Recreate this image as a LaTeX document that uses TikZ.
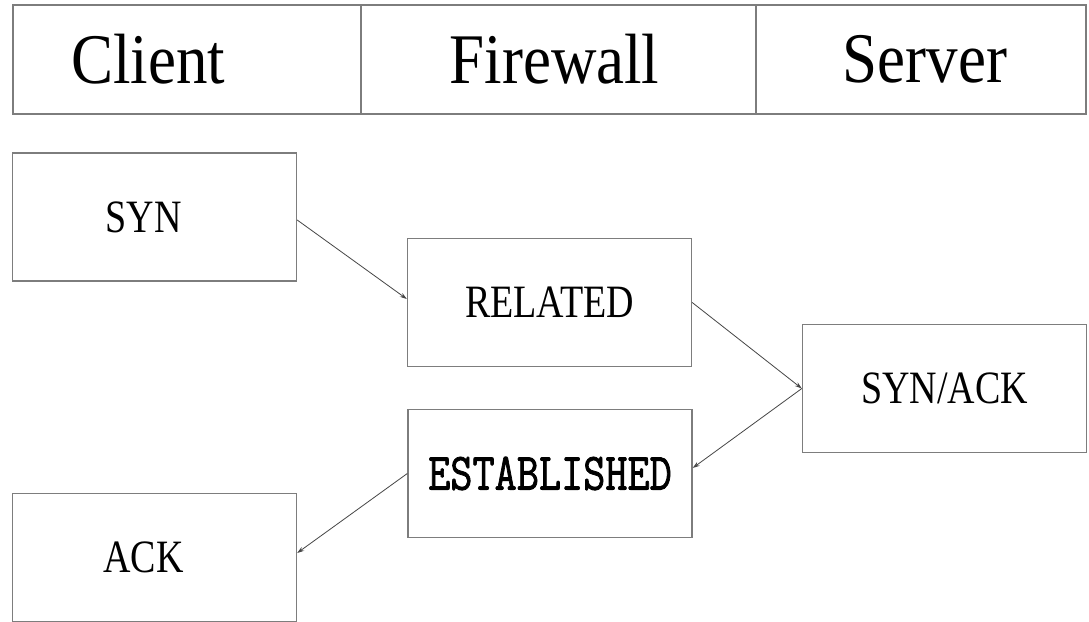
\documentclass[tikz,border=0pt]{standalone}
\usepackage{fontspec}
\setmainfont{Liberation Serif}
\newfontfamily\monobold{Latin Modern Mono}[AutoFakeBold=1.6]
\usetikzlibrary{arrows.meta}
\definecolor{boxline}{RGB}{125,125,125}
\definecolor{arrowline}{RGB}{70,70,70}
\newcommand{\headtext}[1]{\scalebox{1}[1.13]{\fontsize{63}{63}\selectfont #1}}
\newcommand{\msgtext}[1]{\scalebox{1}[1.22]{\fontsize{38}{38}\selectfont #1}}
\newcommand{\msgmono}[1]{\scalebox{1}[1.22]{\fontsize{43}{43}\selectfont\monobold\bfseries #1}}
\begin{document}
\begin{tikzpicture}[x=1pt,y=-1pt,
  headcell/.style={draw=boxline,line width=1.4pt,minimum height=109pt,inner sep=0pt,anchor=center},
  msgbox/.style={draw=boxline,line width=1.4pt,minimum width=284pt,minimum height=128pt,inner sep=0pt},
  flow/.style={draw=arrowline,line width=0.8pt,-{Stealth[length=7pt,width=4.5pt]}}]
  \useasboundingbox[fill=white] (0,0) rectangle (1089,621);
  \begin{scope}
    \clip (0,0) rectangle (1089,621);
    % column headings
    \node[headcell,minimum width=348pt] (client) at (187,59.5) {\headtext{Client}\hspace*{78pt}};
    \node[headcell,minimum width=395pt] (firewall) at (558.5,59.5) {\headtext{Firewall}\hspace*{8pt}};
    \node[headcell,minimum width=330pt] (server) at (921,59.5) {\hspace*{8pt}\headtext{Server}};
    % packets and connection states
    \node[msgbox] (syn) at (154.5,217) {\msgtext{SYN}\hspace*{22pt}};
    \node[msgbox] (related) at (549.5,302.5) {\msgtext{RELATED}};
    \node[msgbox] (synack) at (944.5,388.5) {\msgtext{SYN/ACK}};
    \node[msgbox] (established) at (550,473.5) {\msgmono{ESTABLISHED}};
    \node[msgbox] (ack) at (154.5,557.5) {\msgtext{ACK}\hspace*{22pt}};
    % packet flow
    \draw[flow] ([yshift=-3pt]syn.east) -- ([yshift=3.5pt]related.west);
    \draw[flow] (related.east) -- (synack.west);
    \draw[flow] (synack.west) -- ([yshift=5.5pt]established.east);
    \draw[flow] (established.west) -- ([yshift=4.5pt]ack.east);
  \end{scope}
\end{tikzpicture}
\end{document}
